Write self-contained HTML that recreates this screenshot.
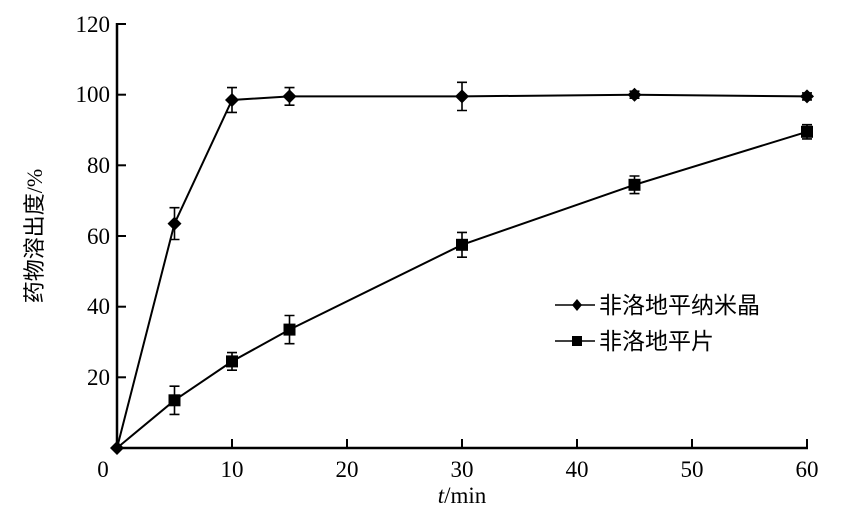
<!DOCTYPE html>
<html><head><meta charset="utf-8"><style>body{margin:0;background:#fff}svg{display:block}</style></head><body>
<svg width="845" height="514" viewBox="0 0 845 514" xmlns="http://www.w3.org/2000/svg">
<g font-family="Liberation Serif, serif" font-size="23" fill="#000">
<line x1="117" y1="23" x2="117" y2="449" stroke="#000" stroke-width="2.5"/>
<line x1="116" y1="448" x2="808" y2="448" stroke="#000" stroke-width="2.5"/>
<g stroke="#000" stroke-width="2">
<line x1="117" y1="24" x2="126" y2="24"/><line x1="117" y1="94.7" x2="126" y2="94.7"/><line x1="117" y1="165.3" x2="126" y2="165.3"/><line x1="117" y1="236" x2="126" y2="236"/><line x1="117" y1="306.7" x2="126" y2="306.7"/><line x1="117" y1="377.3" x2="126" y2="377.3"/>
<line x1="232" y1="448" x2="232" y2="439"/><line x1="347" y1="448" x2="347" y2="439"/><line x1="462" y1="448" x2="462" y2="439"/><line x1="577" y1="448" x2="577" y2="439"/><line x1="692" y1="448" x2="692" y2="439"/><line x1="807" y1="448" x2="807" y2="439"/>
</g>
<g text-anchor="end"><text x="110" y="32">120</text><text x="110" y="102">100</text><text x="110" y="173">80</text><text x="110" y="244">60</text><text x="110" y="314">40</text><text x="110" y="385">20</text></g>
<g text-anchor="middle"><text x="103" y="477">0</text><text x="232" y="477">10</text><text x="347" y="477">20</text><text x="462" y="477">30</text><text x="577" y="477">40</text><text x="692" y="477">50</text><text x="807" y="477">60</text></g>
<text x="462" y="503" text-anchor="middle"><tspan font-style="italic">t</tspan>/min</text>
<text transform="translate(42,236) rotate(-90)" text-anchor="middle" font-family="Liberation Serif, 'Noto Sans CJK SC', sans-serif" font-size="22">药物溶出度/%</text>
<polyline fill="none" stroke="#000" stroke-width="2" points="117,448 174.5,223.6 232,100 289.5,96.4 462,96.4 634.5,94.7 807,96.4"/>
<polyline fill="none" stroke="#000" stroke-width="2" points="117,448 174.5,400.3 232,361.4 289.5,329.6 462,244.8 634.5,184.8 807,131.8"/>
<g stroke="#000" stroke-width="1.6" fill="none">
<path d="M174.5,207.7V239.5M169.5,207.7h10M169.5,239.5h10"/>
<path d="M232,87.6V112.4M227,87.6h10M227,112.4h10"/>
<path d="M289.5,87.6V105.2M284.5,87.6h10M284.5,105.2h10"/>
<path d="M462,82.3V110.5M457,82.3h10M457,110.5h10"/>
<path d="M634.5,91.2V98.2M629.5,91.2h10M629.5,98.2h10"/>
<path d="M807,92.9V99.9M802,92.9h10M802,99.9h10"/>
<path d="M174.5,386.2V414.4M169.5,386.2h10M169.5,414.4h10"/>
<path d="M232,352.6V370.2M227,352.6h10M227,370.2h10"/>
<path d="M289.5,315.5V343.7M284.5,315.5h10M284.5,343.7h10"/>
<path d="M462,232.4V257.2M457,232.4h10M457,257.2h10"/>
<path d="M634.5,176V193.6M629.5,176h10M629.5,193.6h10"/>
<path d="M807,124.7V138.9M802,124.7h10M802,138.9h10"/>
</g>
<g>
<path d="M117,441l7,7-7,7-7-7z"/>
<path d="M174.5,216.6l7,7-7,7-7-7z"/><path d="M232,93l7,7-7,7-7-7z"/><path d="M289.5,89.4l7,7-7,7-7-7z"/><path d="M462,89.4l7,7-7,7-7-7z"/><path d="M634.5,87.7l7,7-7,7-7-7z"/><path d="M807,89.4l7,7-7,7-7-7z"/>
<rect x="168.5" y="394.3" width="12" height="12"/><rect x="226" y="355.4" width="12" height="12"/><rect x="283.5" y="323.6" width="12" height="12"/><rect x="456" y="238.8" width="12" height="12"/><rect x="628.5" y="178.8" width="12" height="12"/><rect x="801" y="125.8" width="12" height="12"/>
</g>
<line x1="555" y1="305" x2="595" y2="305" stroke="#000" stroke-width="1.5"/>
<path d="M577,299l5,6-5,6-5-6z"/>
<line x1="555" y1="341" x2="595" y2="341" stroke="#000" stroke-width="1.5"/>
<rect x="572" y="336" width="10" height="10"/>
<g font-family="Liberation Serif, 'Noto Sans CJK SC', sans-serif" font-size="23"><text x="599" y="313">非洛地平纳米晶</text><text x="599" y="349">非洛地平片</text></g>
</g>
</svg>
</body></html>
